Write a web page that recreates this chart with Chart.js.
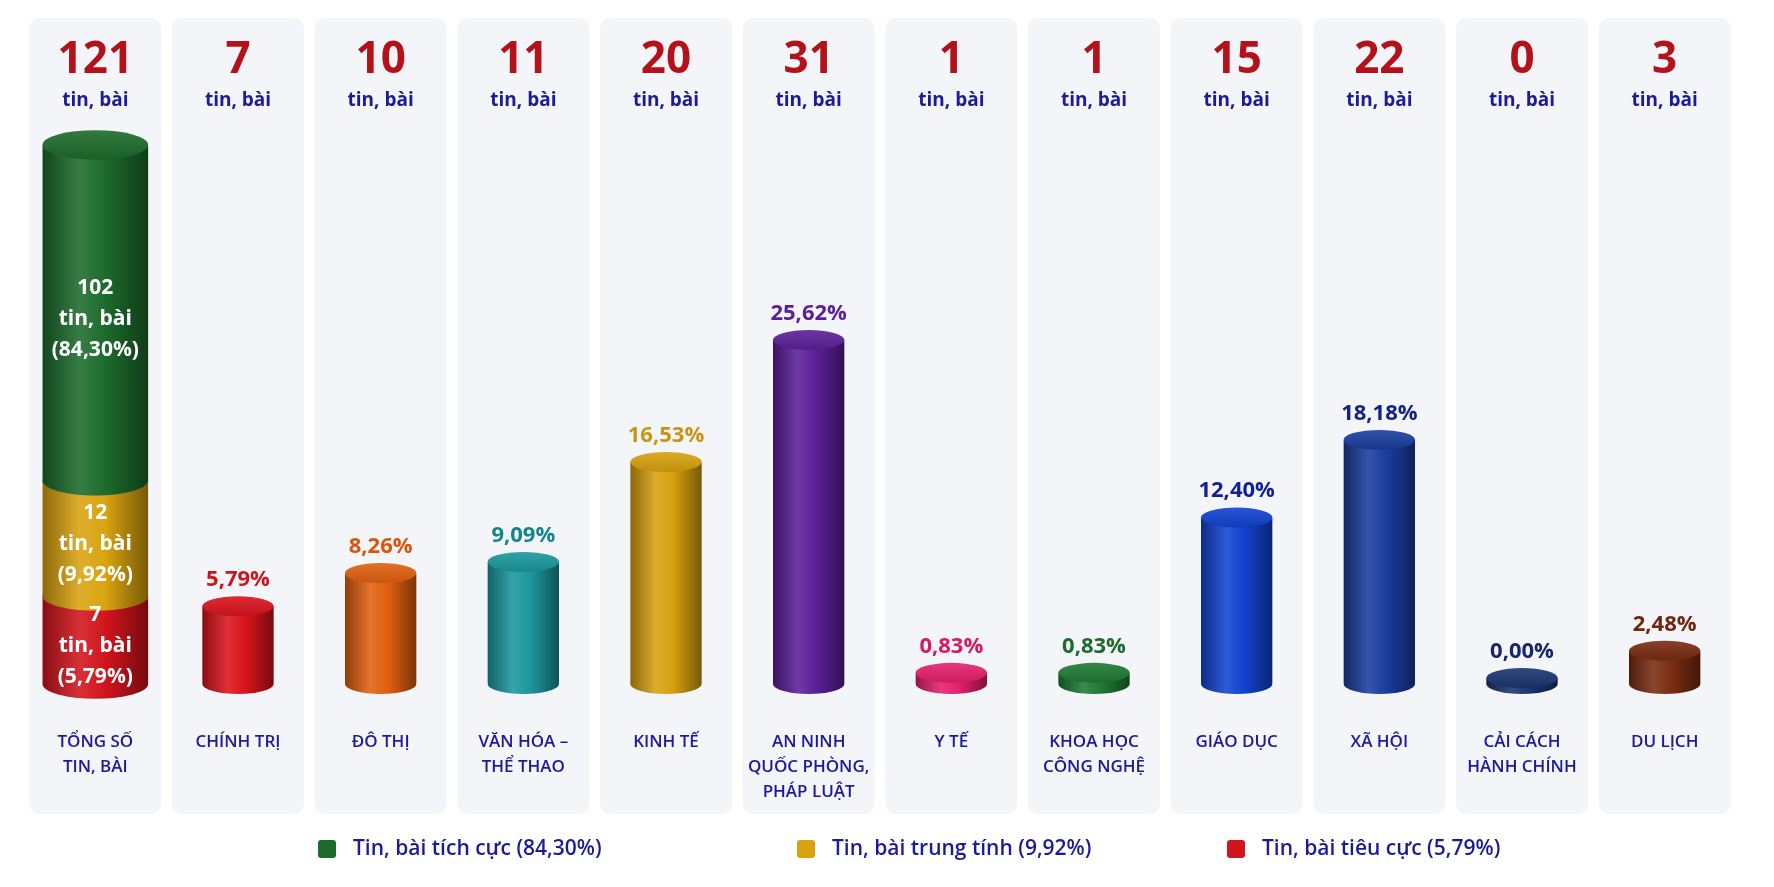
<!DOCTYPE html>
<html><head><meta charset="utf-8">
<script src="https://cdn.jsdelivr.net/npm/chart.js@4"></script>
<style>html,body{margin:0;padding:0;background:#fff}#w{width:1774px;height:887px}</style>
</head><body><div id="w"><canvas id="c"></canvas></div>
<script>
const categories = [["TỔNG SỐ","TIN, BÀI"],["CHÍNH TRỊ"],["ĐÔ THỊ"],["VĂN HÓA –","THỂ THAO"],["KINH TẾ"],["AN NINH","QUỐC PHÒNG,","PHÁP LUẬT"],["Y TẾ"],["KHOA HỌC","CÔNG NGHỆ"],["GIÁO DỤC"],["XÃ HỘI"],["CẢI CÁCH","HÀNH CHÍNH"],["DU LỊCH"]];
const counts = [121,7,10,11,20,31,1,1,15,22,0,3];
const percents = [null,5.79,8.26,9.09,16.53,25.62,0.83,0.83,12.40,18.18,0.00,2.48];
const percentLabels = ["","5,79%","8,26%","9,09%","16,53%","25,62%","0,83%","0,83%","12,40%","18,18%","0,00%","2,48%"];
const barColors = ["","#d9141c","#e0600f","#1a979e","#d6a00e","#5b1f98","#e4206c","#1f7a33","#1243d0","#1a3d9e","#1b3570","#7a2c12"];
const labelColors = ["","#d0141c","#d8560c","#12858c","#c99412","#5a1f96","#d8185f","#1d6a2e","#0f1f9a","#13238a","#16266e","#6e2610"];
const negative = [7], neutral = [12], positive = [102];
const stackLabels = [["7","tin, bài","(5,79%)"],["12","tin, bài","(9,92%)"],["102","tin, bài","(84,30%)"]];
const legendLabels = ["Tin, bài tích cực (84,30%)","Tin, bài trung tính (9,92%)","Tin, bài tiêu cực (5,79%)"];
const legendColors = ["#1c6b2c","#d9a30f","#d2141c"];
const stackColors = ["#d2141c","#d9a30f","#1c6b2c"];
const F = '"Open Sans", sans-serif';

function shade(hex, f){
  let n=parseInt(hex.slice(1),16),r=n>>16,g=(n>>8)&255,b=n&255;
  const m=v=>f<0?Math.round(v*(1+f)):Math.round(v+(255-v)*f);
  return `rgb(${m(r)},${m(g)},${m(b)})`;
}
function cyl(ctx,x,top,base,w,col,cap){
  const rx=w/2, ry=w*0.14;
  if(base-top<6) top=base-6;
  const g=ctx.createLinearGradient(x-rx,0,x+rx,0);
  g.addColorStop(0,shade(col,-0.35));g.addColorStop(0.35,shade(col,0.12));g.addColorStop(0.6,col);g.addColorStop(1,shade(col,-0.45));
  ctx.fillStyle=g;
  ctx.beginPath();ctx.moveTo(x-rx,top);ctx.lineTo(x-rx,base);
  ctx.ellipse(x,base,rx,ry,0,Math.PI,0,true);ctx.lineTo(x+rx,top);ctx.closePath();ctx.fill();
  if(cap){
    const g2=ctx.createLinearGradient(0,top-ry,0,top+ry);
    g2.addColorStop(0,shade(col,0.1));g2.addColorStop(1,shade(col,-0.1));
    ctx.fillStyle=g2;ctx.beginPath();ctx.ellipse(x,top,rx,ry,0,0,Math.PI*2);ctx.fill();
  }
}
const plug={
  id:'cyl',
  beforeDraw(ch){
    const ctx=ch.ctx,xs=ch.scales.x;
    ctx.save();ctx.fillStyle='#f4f5f9';
    categories.forEach((c,i)=>{const x=xs.getPixelForValue(i);ctx.beginPath();ctx.roundRect(x-66,18,132,796,10);ctx.fill();});
    ctx.restore();
  },
  afterDatasetsDraw(ch){
    const ctx=ch.ctx,xs=ch.scales.x;ctx.save();
    // stacked column: total height from the library, split with a sqrt emphasis like the reference
    const els=[0,1,2].map(d=>ch.getDatasetMeta(d).data[0]);
    const vals=[negative[0],neutral[0],positive[0]];
    const base=els[0].base, topY=els[2].y, H=base-topY;
    const wts=vals.map(v=>Math.sqrt(v)), sw=wts.reduce((a,b)=>a+b,0);
    let cur=base; const segs=[];
    wts.forEach((w,d)=>{const t=cur-H*w/sw;segs.push([t,cur]);cur=t;});
    segs.forEach((s,d)=>cyl(ctx,els[d].x,s[0],s[1],els[d].width,stackColors[d],true));
    segs.forEach((s,d)=>{
      const mid=(s[0]+s[1])/2+6;
      ctx.fillStyle='#fff';ctx.font='bold 21px '+F;ctx.textAlign='center';ctx.textBaseline='middle';
      stackLabels[d].forEach((t,k)=>ctx.fillText(t,els[d].x,mid+(k-1)*31));
    });
    const meta=ch.getDatasetMeta(3);
    meta.data.forEach((el,i)=>{
      if(percents[i]===null)return;
      cyl(ctx,el.x,el.y,el.base,el.width,barColors[i],true);
      const top=Math.min(el.y,el.base-6);
      ctx.fillStyle=labelColors[i];ctx.font='bold 22px '+F;ctx.textAlign='center';ctx.textBaseline='alphabetic';
      ctx.fillText(percentLabels[i],el.x,top-el.width*0.14-10);
    });
    categories.forEach((c,i)=>{
      const x=xs.getPixelForValue(i);
      ctx.textAlign='center';ctx.textBaseline='middle';
      ctx.fillStyle='#b3121a';ctx.font='bold 44px '+F;ctx.fillText(String(counts[i]),x,60);
      ctx.fillStyle='#1a1a9a';ctx.font='bold 19px '+F;ctx.fillText('tin, bài',x,101);
      ctx.font='600 17px '+F;c.forEach((t,k)=>ctx.fillText(t,x,742+k*25));
    });
    const lx=[327,806,1236];
    legendLabels.forEach((t,i)=>{
      ctx.fillStyle=legendColors[i];ctx.beginPath();ctx.roundRect(lx[i]-9,840,18,18,3);ctx.fill();
      ctx.fillStyle='#1a1a9a';ctx.font='600 21px '+F;ctx.textAlign='left';ctx.fillText(t,lx[i]+26,849);
    });
    ctx.restore();
  }
};
const N=null, tr='rgba(0,0,0,0)';
new Chart(document.getElementById('c'),{
  type:'bar',
  data:{labels:categories.map(c=>c.join(' ')),datasets:[
    {data:negative.concat(Array(11).fill(N)),yAxisID:'y',stack:'a',backgroundColor:tr,barPercentage:0.74,categoryPercentage:1},
    {data:neutral.concat(Array(11).fill(N)),yAxisID:'y',stack:'a',backgroundColor:tr,barPercentage:0.74,categoryPercentage:1},
    {data:positive.concat(Array(11).fill(N)),yAxisID:'y',stack:'a',backgroundColor:tr,barPercentage:0.74,categoryPercentage:1},
    {data:percents,yAxisID:'y2',stack:'a',backgroundColor:tr,barPercentage:0.5,categoryPercentage:1}
  ]},
  options:{responsive:true,maintainAspectRatio:false,animation:false,
    layout:{padding:{left:24,right:38,top:120,bottom:203}},
    plugins:{legend:{display:false},tooltip:{enabled:false}},
    scales:{
      x:{stacked:true,display:false},
      y:{stacked:true,display:false,min:0,max:126.6},
      y2:{stacked:true,display:false,min:0,max:42}
    }},
  plugins:[plug]
});
</script></body></html>
